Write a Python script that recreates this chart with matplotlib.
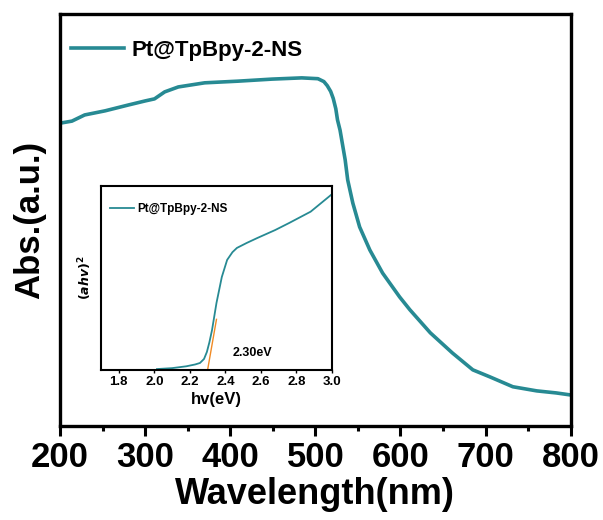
import matplotlib.pyplot as plt
from matplotlib.ticker import MultipleLocator

plt.rcParams['font.family'] = ['Liberation Sans', 'DejaVu Sans']
plt.rcParams['font.weight'] = 'bold'

# UV-vis absorption spectrum
wavelength = [200, 214, 229, 253, 280, 300, 311, 323, 339, 370, 409, 449, 484,
              503, 510, 514, 518, 521, 524, 526, 529, 531, 535, 538, 544, 552,
              564, 579, 599, 611, 635, 661, 685, 705, 732, 760, 783, 800]
absorbance = [0.735, 0.740, 0.755, 0.765, 0.779, 0.789, 0.794, 0.811, 0.823,
              0.833, 0.837, 0.842, 0.845, 0.843, 0.836, 0.826, 0.812, 0.795,
              0.770, 0.743, 0.718, 0.694, 0.646, 0.597, 0.541, 0.483, 0.427,
              0.371, 0.313, 0.282, 0.226, 0.177, 0.136, 0.119, 0.095, 0.085,
              0.080, 0.075]

# Tauc plot
energy = [2.015, 2.10, 2.18, 2.23, 2.257, 2.28, 2.296, 2.31, 2.325, 2.35, 2.38,
          2.41, 2.44, 2.465, 2.52, 2.58, 2.68, 2.76, 2.88, 3.0]
tauc = [0.005, 0.010, 0.020, 0.030, 0.038, 0.060, 0.098, 0.150, 0.217, 0.364,
        0.505, 0.598, 0.640, 0.663, 0.690, 0.717, 0.760, 0.799, 0.860, 0.955]
band_gap = 2.30
fit_slope = 5.5
fit_x = [2.29, 2.35]

label = 'Pt@TpBpy-2-NS'
teal = '#278a93'

fig = plt.figure(figsize=(6.03, 5.20), dpi=100)
ax = fig.add_axes([0.0995, 0.181, 0.847, 0.792])
ax.plot(wavelength, absorbance, color=teal, lw=2.6, label=label)
ax.set_xlim(200, 800)
ax.set_ylim(0, 1)
ax.xaxis.set_major_locator(MultipleLocator(100))
ax.xaxis.set_minor_locator(MultipleLocator(50))
ax.set_yticks([])
ax.tick_params(axis='x', which='major', direction='out', length=7, width=2.2,
               labelsize=25, pad=4)
ax.tick_params(axis='x', which='minor', direction='out', length=3.5, width=2.2)
for s in ax.spines.values():
    s.set_linewidth(2.4)
ax.set_xlabel('Wavelength(nm)', fontsize=26, fontweight='bold', labelpad=2)
ax.set_ylabel('Abs.(a.u.)', fontsize=25, fontweight='bold', labelpad=10)
ax.legend(loc='upper left', bbox_to_anchor=(0.0, 0.965), frameon=False,
          handlelength=2.4, handletextpad=0.3, borderaxespad=0.1,
          prop={'size': 16, 'weight': 'bold'})

ins = fig.add_axes([0.1675, 0.2885, 0.383, 0.354])
ins.plot(energy, tauc, color=teal, lw=1.3, label=label)
ins.plot(fit_x, [fit_slope * (x - band_gap) for x in fit_x], color='#f08a24', lw=1.0)
ins.set_xlim(1.7, 3.0)
ins.set_ylim(0, 1)
ins.set_xticks([1.8, 2.0, 2.2, 2.4, 2.6, 2.8, 3.0])
ins.set_yticks([])
ins.tick_params(axis='x', length=2, width=1, labelsize=9.5, pad=2)
for s in ins.spines.values():
    s.set_linewidth(1.5)
ins.set_xlabel('hv(eV)', fontsize=12, fontweight='bold', labelpad=3)
ins.set_ylabel(r'$(ahv)^2$', fontsize=9, labelpad=5)
ins.text(2.44, 0.075, f'{band_gap:.2f}eV', fontsize=9, fontweight='bold')
ins.legend(loc='upper left', bbox_to_anchor=(0.0, 0.96), frameon=False,
           handlelength=2.0, handletextpad=0.3, borderaxespad=0.4,
           prop={'size': 8.5, 'weight': 'bold'})

fig.savefig('out.png', dpi=100)
